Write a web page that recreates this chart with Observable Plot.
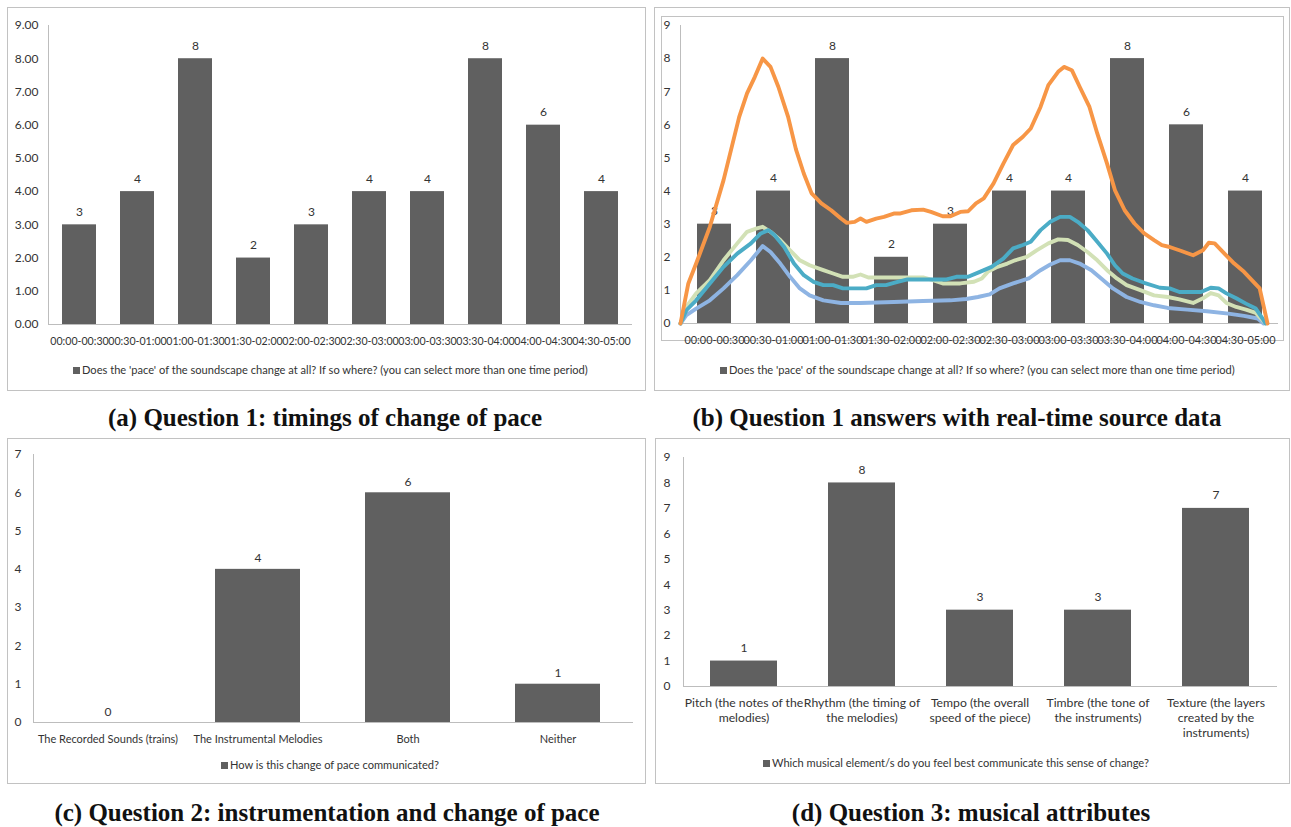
<!DOCTYPE html>
<html><head><meta charset="utf-8">
<script src="https://cdn.jsdelivr.net/npm/d3@7"></script>
<script src="https://cdn.jsdelivr.net/npm/@observablehq/plot@0.6"></script>
<style>
html,body{margin:0;padding:0;background:#fff;}
body{width:1291px;height:827px;position:relative;overflow:hidden;font-family:Lato,sans-serif;}
.box{position:absolute;border:1px solid #c2c2c2;box-sizing:border-box;}
.slot{position:absolute;}
.slot svg{overflow:visible;}
.legend{position:absolute;font-family:Lato,sans-serif;font-size:11.1px;color:#333;white-space:nowrap;line-height:14px;height:14px;display:flex;align-items:center;}
.legend i{display:inline-block;width:7px;height:7px;background:#606060;margin-right:2px;}
.caption{position:absolute;font-family:"Liberation Serif",serif;font-weight:bold;font-size:25px;line-height:28px;white-space:nowrap;transform:translateX(-50%);color:#111;}
</style></head><body>

<div class="box" style="left:7px;top:7px;width:639px;height:384px"></div>
<div class="box" style="left:654px;top:7px;width:636px;height:384px"></div>
<div class="box" style="left:661px;top:16px;width:623px;height:325px"></div>
<div class="box" style="left:7px;top:438px;width:639px;height:346px"></div>
<div class="box" style="left:655px;top:438px;width:635px;height:346px"></div>

<div class="slot" id="pa" style="left:7px;top:7px"></div>
<div class="slot" id="pb" style="left:661px;top:16px"></div>
<div class="slot" id="pbl" style="left:661px;top:16px"></div>
<div class="slot" id="pc" style="left:7px;top:438px"></div>
<div class="slot" id="pd" style="left:655px;top:438px"></div>

<div class="legend" id="la" style="left:73px;top:363px"></div>
<div class="legend" id="lb" style="left:720px;top:363px"></div>
<div class="legend" id="lc" style="left:221px;top:758px"></div>
<div class="legend" id="ld" style="left:763px;top:756px"></div>

<div class="caption" id="ca" style="left:325px;top:404px"></div>
<div class="caption" id="cb" style="left:957px;top:404px"></div>
<div class="caption" id="cc" style="left:327px;top:799px"></div>
<div class="caption" id="cd" style="left:971px;top:799px"></div>

<script>
// ---------- data ----------
const periods = ["00:00-00:30","00:30-01:00","01:00-01:30","01:30-02:00","02:00-02:30","02:30-03:00","03:00-03:30","03:30-04:00","04:00-04:30","04:30-05:00"];
const paceCounts = [3,4,8,2,3,4,4,8,6,4];
const paceTicks = [0,1,2,3,4,5,6,7,8,9];
const paceQuestion = "Does the 'pace' of the soundscape change at all? If so where? (you can select more than one time period)";

const q2Options = ["The Recorded Sounds (trains)","The Instrumental Melodies","Both","Neither"];
const q2Counts = [0,4,6,1];
const q2Ticks = [0,1,2,3,4,5,6,7];
const q2Question = "How is this change of pace communicated?";

const q3Elements = ["Pitch (the notes of the\nmelodies)","Rhythm (the timing of\nthe melodies)","Tempo (the overall\nspeed of the piece)","Timbre (the tone of\nthe instruments)","Texture (the layers\ncreated by the\ninstruments)"];
const q3Counts = [1,8,3,3,7];
const q3Ticks = [0,1,2,3,4,5,6,7,8,9];
const q3Question = "Which musical element/s do you feel best communicate this sense of change?";

const captions = ["(a) Question 1: timings of change of pace","(b) Question 1 answers with real-time source data","(c) Question 2: instrumentation and change of pace","(d) Question 3: musical attributes"];

// real-time source data: [seconds, value]
const srcOrange = [[0,0],[4,1.21],[8,1.81],[15,2.92],[22,4.33],[30,6.24],[34,6.95],[38,7.45],[42,8.0],[46,7.75],[50,7.15],[55,6.24],[59,5.26],[63,4.53],[67,3.93],[72,3.63],[77,3.42],[82,3.17],[85,3.04],[89,3.07],[92,3.17],[95,3.07],[100,3.17],[104,3.22],[109,3.32],[112,3.32],[118,3.42],[124,3.44],[128,3.37],[134,3.24],[138,3.24],[143,3.37],[147,3.39],[151,3.63],[155,3.78],[160,4.23],[165,4.83],[170,5.39],[175,5.64],[179,5.89],[184,6.54],[188,7.2],[193,7.6],[196,7.75],[200,7.65],[204,7.15],[209,6.54],[213,5.74],[218,4.83],[222,4.03],[227,3.42],[232,3.02],[237,2.72],[242,2.52],[246,2.37],[250,2.31],[256,2.19],[262,2.06],[267,2.21],[270,2.44],[273,2.42],[278,2.11],[283,1.81],[288,1.56],[292,1.31],[296,1.06],[300,0]];
const srcTeal = [[0,0],[3,0.40],[8,0.70],[15,1.21],[22,1.71],[29,2.11],[36,2.42],[41,2.72],[45,2.82],[48,2.67],[53,2.31],[58,1.81],[63,1.46],[68,1.26],[73,1.16],[78,1.16],[83,1.06],[95,1.06],[100,1.16],[105,1.16],[110,1.24],[116,1.33],[124,1.33],[136,1.33],[141,1.41],[147,1.41],[153,1.56],[159,1.71],[165,1.96],[170,2.27],[175,2.37],[179,2.47],[184,2.82],[189,3.07],[194,3.22],[199,3.22],[203,3.07],[208,2.82],[213,2.47],[218,2.11],[222,1.76],[226,1.51],[231,1.36],[237,1.23],[245,1.08],[250,1.06],[255,0.95],[266,0.95],[271,1.08],[275,1.06],[279,0.91],[284,0.76],[289,0.60],[294,0.45],[298,0.1],[299,0]];
const srcGreen = [[0,0],[3,0.5],[8,0.91],[15,1.31],[22,1.91],[29,2.42],[34,2.77],[39,2.87],[42,2.92],[46,2.77],[51,2.52],[56,2.21],[61,1.91],[66,1.76],[73,1.61],[78,1.51],[83,1.41],[88,1.41],[92,1.48],[96,1.39],[109,1.39],[124,1.39],[129,1.31],[134,1.21],[143,1.21],[150,1.26],[154,1.36],[157,1.56],[162,1.71],[167,1.81],[171,1.91],[177,2.01],[182,2.21],[188,2.42],[193,2.54],[198,2.52],[203,2.37],[208,2.16],[213,1.91],[218,1.61],[223,1.36],[228,1.16],[235,1.01],[242,0.85],[249,0.80],[255,0.73],[262,0.62],[267,0.76],[271,0.92],[275,0.85],[279,0.62],[284,0.50],[289,0.42],[294,0.32],[299,0]];
const srcBlue = [[0,0],[3,0.25],[8,0.45],[15,0.70],[22,1.06],[29,1.46],[36,1.91],[42,2.34],[46,2.16],[51,1.81],[56,1.41],[61,1.06],[66,0.85],[73,0.70],[82,0.62],[92,0.62],[109,0.65],[124,0.68],[138,0.70],[146,0.74],[152,0.80],[158,0.88],[163,1.06],[170,1.21],[178,1.36],[184,1.61],[189,1.78],[194,1.91],[199,1.91],[204,1.81],[210,1.61],[215,1.36],[221,1.06],[228,0.80],[235,0.65],[242,0.55],[249,0.47],[259,0.42],[269,0.37],[280,0.30],[288,0.23],[295,0.15],[298,0]];

// ---------- drawing ----------
const baseStyle = {fontFamily:"Lato, sans-serif", fontSize:"11px", color:"#333", background:"transparent", overflow:"visible"};

function barChart(o){
  const data = o.cats.map((c,i)=>({c, v:o.vals[i]}));
  return Plot.plot({
    width:o.width, height:o.height,
    marginTop:o.mt, marginRight:o.mr, marginBottom:o.mb, marginLeft:o.ml,
    style:baseStyle,
    x:{domain:o.cats, paddingInner:o.pi, paddingOuter:o.pi/2, align:0.5, label:null},
    y:{domain:[0,o.ymax], label:null},
    marks:[
      Plot.frame({anchor:"left", stroke:"#bdbdbd"}),
      Plot.barY(data,{x:"c", y:"v", fill:"#606060"}),
      Plot.ruleY([0],{stroke:"#bdbdbd"}),
      Plot.axisY({ticks:o.yTicks, tickSize:0, tickPadding:o.ypad, tickFormat:o.yFmt, label:null, fontSize:o.yfs}),
      Plot.axisX({tickSize:0, tickPadding:o.xpad, fontSize:o.xfs, lineHeight:o.lh || 1, label:null}),
      Plot.text(data,{x:"c", y:"v", text:d=>String(d.v), lineAnchor:"bottom", dy:o.ldy, fill:"#333", fontSize:12})
    ]
  });
}

document.getElementById("pa").append(barChart({
  cats:periods, vals:paceCounts, width:638, height:383, mt:18, mr:13, mb:66, ml:41,
  pi:0.418, ymax:9, yTicks:paceTicks, yFmt:d=>d.toFixed(2), ypad:10, yfs:12, xpad:13, xfs:10.6, ldy:-9
}));

document.getElementById("pb").append(barChart({
  cats:periods, vals:paceCounts, width:622, height:340, mt:9, mr:5, mb:33, ml:19,
  pi:0.43, ymax:9, yTicks:paceTicks, yFmt:d=>String(d), ypad:10, yfs:12, xpad:13, xfs:10.9, ldy:-9
}));

function sourceLines(){
  const series = [[srcBlue,"#8EB4E3"],[srcGreen,"#D2E1B6"],[srcTeal,"#4BACC6"],[srcOrange,"#F79646"]];
  return Plot.plot({
    width:622, height:340, marginTop:9, marginRight:16, marginBottom:33, marginLeft:19,
    style:baseStyle,
    x:{domain:[0,300], axis:null},
    y:{domain:[0,9], axis:null},
    marks: series.map(([d,c]) => Plot.line(d,{x:p=>p[0], y:p=>p[1], stroke:c, strokeWidth:3.9, strokeLinejoin:"round", strokeLinecap:"round"}))
  });
}
document.getElementById("pbl").append(sourceLines());

document.getElementById("pc").append(barChart({
  cats:q2Options, vals:q2Counts, width:638, height:345, mt:16, mr:12, mb:61, ml:26,
  pi:0.433, ymax:7, yTicks:q2Ticks, yFmt:d=>String(d), ypad:12, yfs:12, xpad:13, xfs:11, ldy:-7
}));

document.getElementById("pd").append(barChart({
  cats:q3Elements, vals:q3Counts, width:634, height:345, mt:19, mr:12, mb:97, ml:28,
  pi:0.432, ymax:9, yTicks:q3Ticks, yFmt:d=>String(d), ypad:13, yfs:12, xpad:10, xfs:12.2, lh:1.23, ldy:-9
}));

function legend(id, text){
  const el = document.getElementById(id);
  el.innerHTML = "<i></i>";
  el.append(document.createTextNode(text));
}
legend("la", paceQuestion);
legend("lb", paceQuestion);
legend("lc", q2Question);
legend("ld", q3Question);

["ca","cb","cc","cd"].forEach((id,i)=>{ document.getElementById(id).textContent = captions[i]; });
</script>
</body></html>
